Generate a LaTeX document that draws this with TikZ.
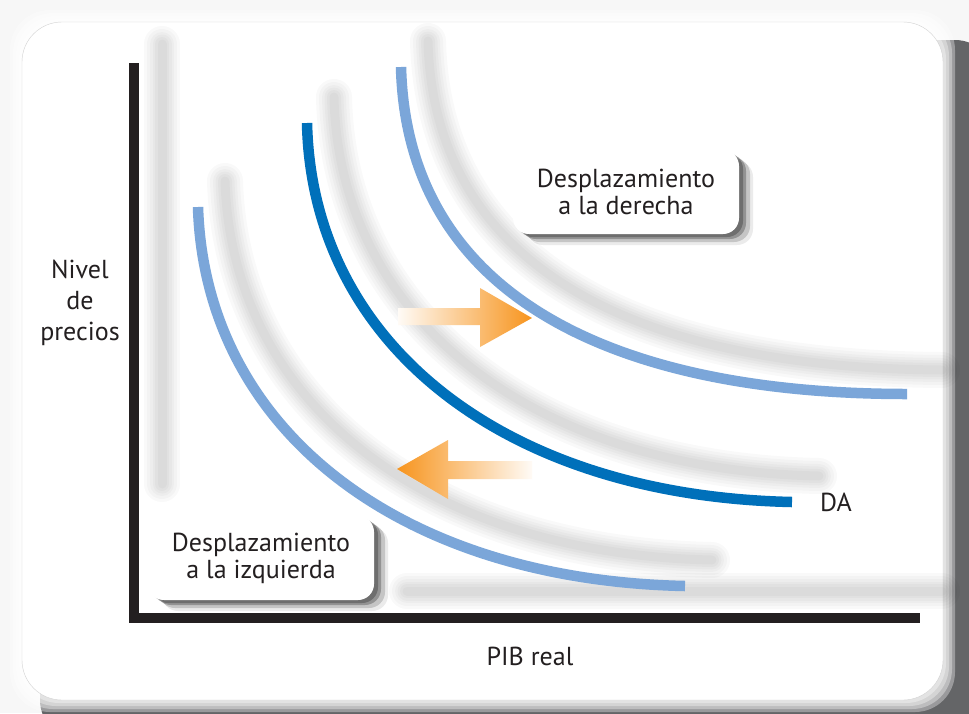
\documentclass[tikz,border=0pt]{standalone}
\usepackage{fontspec}
\setmainfont{PT Sans}
\usetikzlibrary{shadows}

\definecolor{shiftblue}{HTML}{7BA6D9}
\definecolor{dablue}{HTML}{0070BA}
\definecolor{pushorange}{HTML}{F7941D}
\definecolor{inkblack}{HTML}{231F20}
\definecolor{shadegray}{HTML}{646567}

\newcommand{\labelfont}{\fontsize{26}{27}\selectfont}

\begin{document}
\begin{tikzpicture}[x=1pt, y=-1pt,
    axisline/.style={draw=inkblack, line width=10pt},
    curve/.style={line width=10.5pt},
    ghost/.style={draw=black, opacity=0.024, line cap=round},
    txt/.style={text=inkblack, font=\labelfont, align=center},
    shiftbox/.style={txt, fill=white, rounded corners=16pt,
        minimum width=226pt, minimum height=84pt,
        drop shadow={shadow xshift=14pt, shadow yshift=-11pt, opacity=0.08, fill=black},
        drop shadow={shadow xshift=11pt, shadow yshift=-8pt, opacity=0.16, fill=black},
        drop shadow={shadow xshift=7pt, shadow yshift=-5pt, opacity=0.25, fill=black},
        drop shadow={shadow xshift=4pt, shadow yshift=-3pt, opacity=0.25, fill=black}}]
    \useasboundingbox (0, 0) rectangle (969, 713);

    % panel and its shadow
    \fill[gray!6] (0, 0) rectangle (969, 713);
    \fill[shadegray, rounded corners=40pt] (40, 40) rectangle (995, 740);
    \foreach \d in {12, 9, 6, 3}
        \fill[white, opacity=0.35, rounded corners=40pt] (22-\d, 22-\d) rectangle (943+\d, 700+\d);
    \fill[white, rounded corners=40pt] (22, 22) rectangle (943, 700);
    \draw[gray!35, rounded corners=40pt] (22, 22) rectangle (943, 700);

    % soft shadows of axes and curves
    \foreach \w in {36, 30, 24, 19, 14, 9} {
        \begin{scope}[shift={(27, -26)}, line width=\w pt]
            \draw[ghost] (135, 70) -- (135, 510);
            \draw[ghost] (380, 617) -- (915, 617);
            \draw[ghost] (198, 207) .. controls (205, 430) and (400, 580) .. (685, 586);
            \draw[ghost] (307, 123) .. controls (312, 346) and (507, 496) .. (792, 502);
            \draw[ghost] (401, 67) .. controls (407, 300) and (620, 394) .. (915, 396);
        \end{scope}
    }

    % axes
    \coordinate (ytop) at (134, 63);
    \coordinate (origin) at (134, 618);
    \coordinate (xend) at (920, 618);
    \draw[axisline] (ytop) -- (origin) -- (xend);

    % curves
    \draw[curve, shiftblue] (198, 207) .. controls (205, 430) and (400, 580) .. (685, 586);
    \draw[curve, dablue] (307, 123) .. controls (312, 346) and (507, 496) .. (792, 502);
    \draw[curve, shiftblue] (401, 67) .. controls (407, 300) and (620, 394) .. (907, 394);

    % shift arrows
    \shade[left color=pushorange!4, middle color=pushorange!80, right color=pushorange]
        (398, 308) -- (480, 308) -- (480, 288) -- (532, 318) -- (480, 347) -- (480, 325) -- (398, 325) -- cycle;
    \shade[left color=pushorange, middle color=pushorange!80, right color=pushorange!4]
        (532, 461) -- (448, 461) -- (448, 440) -- (397, 469) -- (448, 499) -- (448, 479) -- (532, 479) -- cycle;

    % labels
    \node[shiftbox] (rightbox) at (626, 192) {Desplazamiento\\a la derecha};
    \node[shiftbox] (leftbox) at (261, 558) {Desplazamiento\\a la izquierda};
    \node[txt] (dalabel) at (836, 502) {DA};
    \node[txt] (xlabel) at (530, 656) {PIB real};
    \node[txt, font=\fontsize{26}{31}\selectfont] (ylabel) at (80, 303) {Nivel\\de\\precios};
\end{tikzpicture}
\end{document}
